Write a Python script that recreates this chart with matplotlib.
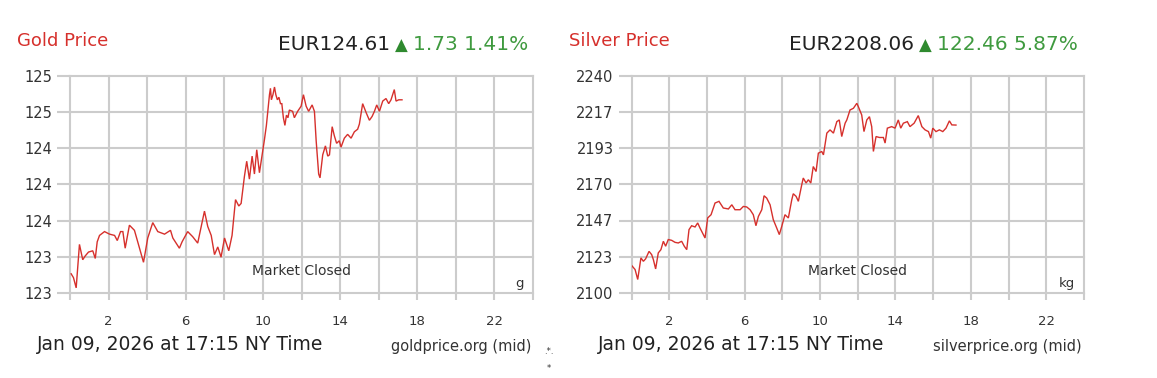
import matplotlib
matplotlib.use("Agg")
import matplotlib.pyplot as plt

# ---------------- data ----------------
gold_hours = [0.06, 0.18, 0.32, 0.49, 0.66, 0.79, 0.96, 1.18, 1.31, 1.41, 1.53, 1.79, 2.05, 2.31, 2.45,
              2.62, 2.74, 2.86, 3.08, 3.34, 3.51, 3.81, 4.03, 4.29, 4.55, 4.90, 5.21, 5.33, 5.67, 5.81,
              6.10, 6.36, 6.62, 6.97, 7.14, 7.32, 7.49, 7.66, 7.83, 8.01, 8.23, 8.40, 8.58, 8.75, 8.87,
              9.04, 9.16, 9.30, 9.44, 9.56, 9.68, 9.82, 10.08, 10.18, 10.26, 10.34, 10.39, 10.44, 10.52,
              10.60, 10.67, 10.75, 10.83, 10.91, 10.98, 11.06, 11.14, 11.22, 11.30, 11.37, 11.54, 11.63,
              11.80, 11.98, 12.10, 12.24, 12.37, 12.55, 12.67, 12.76, 12.89, 12.96, 13.10, 13.24, 13.36,
              13.45, 13.59, 13.70, 13.82, 13.96, 14.05, 14.22, 14.39, 14.57, 14.74, 14.91, 15.00, 15.17,
              15.35, 15.52, 15.66, 15.78, 15.90, 16.04, 16.21, 16.38, 16.52, 16.64, 16.81, 16.90, 17.04,
              17.21]
gold_prices = [123.25, 123.22, 123.14, 123.48, 123.36, 123.39, 123.42, 123.43, 123.37, 123.50, 123.55,
               123.58, 123.56, 123.55, 123.51, 123.58, 123.58, 123.45, 123.63, 123.59, 123.50, 123.34,
               123.53, 123.65, 123.58, 123.56, 123.59, 123.53, 123.45, 123.50, 123.58, 123.54, 123.49,
               123.74, 123.62, 123.55, 123.40, 123.46, 123.38, 123.53, 123.43, 123.55, 123.83, 123.78,
               123.80, 124.01, 124.13, 123.99, 124.17, 124.03, 124.22, 124.04, 124.30, 124.41, 124.53,
               124.65, 124.70, 124.61, 124.65, 124.71, 124.65, 124.61, 124.63, 124.58, 124.58, 124.47,
               124.41, 124.49, 124.47, 124.53, 124.52, 124.47, 124.52, 124.56, 124.65, 124.56, 124.52,
               124.57, 124.52, 124.29, 124.03, 124.00, 124.18, 124.25, 124.17, 124.18, 124.40, 124.33,
               124.27, 124.29, 124.24, 124.31, 124.34, 124.31, 124.36, 124.38, 124.42, 124.58, 124.51,
               124.45, 124.48, 124.52, 124.57, 124.52, 124.60, 124.62, 124.58, 124.61, 124.69, 124.60,
               124.61, 124.61]

silver_hours = [0.01, 0.19, 0.33, 0.50, 0.63, 0.75, 0.93, 1.07, 1.16, 1.28, 1.42, 1.56, 1.69, 1.81, 1.95,
                2.13, 2.31, 2.48, 2.66, 2.80, 2.93, 3.05, 3.19, 3.37, 3.51, 3.63, 3.81, 3.90, 4.04, 4.22,
                4.43, 4.64, 4.87, 5.14, 5.32, 5.49, 5.76, 5.93, 6.11, 6.29, 6.46, 6.60, 6.73, 6.91, 7.03,
                7.17, 7.35, 7.52, 7.70, 7.84, 7.97, 8.14, 8.32, 8.50, 8.58, 8.73, 8.85, 9.03, 9.11, 9.26,
                9.38, 9.51, 9.64, 9.79, 9.91, 10.09, 10.18, 10.36, 10.53, 10.71, 10.89, 11.02, 11.15,
                11.33, 11.42, 11.59, 11.77, 11.95, 12.03, 12.21, 12.33, 12.48, 12.62, 12.74, 12.83, 12.97,
                13.15, 13.36, 13.45, 13.57, 13.80, 13.98, 14.15, 14.28, 14.42, 14.63, 14.77, 14.99, 15.21,
                15.40, 15.57, 15.75, 15.87, 15.98, 16.15, 16.33, 16.51, 16.68, 16.86, 16.99, 17.21]
silver_prices = [2117.7, 2115.1, 2108.7, 2122.6, 2120.4, 2122.0, 2126.8, 2124.7, 2121.5, 2115.5, 2125.8,
                 2127.9, 2133.3, 2130.1, 2134.4, 2133.9, 2132.6, 2132.2, 2133.3, 2130.1, 2127.9, 2140.8,
                 2143.3, 2142.5, 2145.1, 2141.9, 2137.6, 2135.4, 2148.3, 2150.4, 2157.9, 2159.0, 2154.7,
                 2154.1, 2156.8, 2153.6, 2153.6, 2155.7, 2155.4, 2153.6, 2150.4, 2143.3, 2149.3, 2153.6,
                 2162.6, 2161.1, 2156.8, 2147.2, 2141.9, 2137.6, 2142.9, 2150.4, 2148.3, 2160.0, 2163.9,
                 2162.2, 2159.0, 2169.7, 2174.0, 2170.8, 2172.9, 2170.8, 2181.4, 2178.2, 2190.0, 2191.1,
                 2188.9, 2202.9, 2205.0, 2202.9, 2210.3, 2211.4, 2200.7, 2209.3, 2211.4, 2217.8, 2218.9,
                 2222.1, 2220.0, 2214.6, 2203.9, 2211.4, 2213.5, 2207.1, 2191.1, 2200.7, 2200.1, 2200.1,
                 2196.5, 2206.1, 2207.1, 2206.1, 2211.4, 2206.1, 2209.3, 2210.3, 2207.1, 2209.3, 2214.2,
                 2207.1, 2205.0, 2203.9, 2199.7, 2206.1, 2203.9, 2205.0, 2203.9, 2206.1, 2210.8, 2208.2,
                 2208.1]

gold_y_range = (123.1, 124.8)
silver_y_range = (2100.0, 2240.0)
x_ticks = list(range(0, 25, 2))
x_labeled = [2, 6, 10, 14, 18, 22]

gold_title = "Gold Price"
silver_title = "Silver Price"
gold_price_text = "EUR124.61"
gold_change_text = "1.73 1.41%"
silver_price_text = "EUR2208.06"
silver_change_text = "122.46 5.87%"
date_text = "Jan 09, 2026 at 17:15 NY Time"
gold_source = "goldprice.org (mid)"
silver_source = "silverprice.org (mid)"
gold_unit = "g"
silver_unit = "kg"
status_text = "Market Closed"

# ---------------- style ----------------
W, H = 1157, 378
RED = "#d6302c"
GREEN = "#3f9a3f"
DARK = "#333333"
GRID = "#cccccc"

plt.rcParams['font.family'] = ['DejaVu Sans']
fig = plt.figure(figsize=(W / 100, H / 100), dpi=100)
fig.patch.set_facecolor("white")


def px(x, y):
    return x / W, 1 - y / H


def make_panel(left_px, right_px, hours, prices, yr, unit, title, price_txt, change_txt,
               source, title_x, header_right, date_x):
    top_px, bottom_px = 75.5, 293.0
    ax = fig.add_axes([left_px / W, 1 - bottom_px / H, (right_px - left_px) / W,
                       (bottom_px - top_px) / H])
    ax.plot(hours, prices, color=RED, lw=1.0, solid_joinstyle="miter")
    ax.set_xlim(0, 24)
    ax.set_ylim(*yr)
    ax.set_xticks(x_ticks)
    ax.set_xticklabels([str(h) if h in x_labeled else "" for h in x_ticks])
    yt = [yr[0] + (yr[1] - yr[0]) * i / 6 for i in range(7)]
    ax.set_yticks(yt)
    ax.set_yticklabels([f"{v:.0f}" for v in yt])
    for s in ax.spines.values():
        s.set_visible(False)
    ax.grid(True, color=GRID, lw=1.5)
    for gl in ax.get_xgridlines() + ax.get_ygridlines():
        gl.set_clip_on(False)
    ax.set_axisbelow(True)
    ax.tick_params(axis="y", length=9.6, width=1.5, color=GRID, pad=3.4,
                   labelsize=10.5, labelcolor=DARK)
    ax.tick_params(axis="x", length=5.3, width=1.5, color=GRID, pad=10.5,
                   labelsize=9.5, labelcolor=DARK)
    ax.set_facecolor("white")
    # in-plot texts
    cx = (left_px + right_px) / 2
    fig.text(*px(cx, 271), status_text, ha="center", va="center", fontsize=10, color=DARK)
    fig.text(*px(right_px - 9, 284), unit, ha="right", va="center", fontsize=9.5, color=DARK)
    # title
    fig.text(*px(title_x, 41), title, ha="left", va="center", fontsize=13, color=RED)
    # header price
    t_change = fig.text(*px(header_right, 45), change_txt, ha="right", va="center",
                        fontsize=14.5, color=GREEN)
    fig.canvas.draw()
    bb = t_change.get_window_extent()
    tri_right = bb.x0 - 5
    t_tri = fig.text(tri_right / W, 1 - 46 / H, "\u25B2", ha="right", va="center",
                     fontsize=12, color="#2f8a2f")
    fig.canvas.draw()
    bb2 = t_tri.get_window_extent()
    fig.text((bb2.x0 - 5) / W, 1 - 45 / H, price_txt, ha="right", va="center",
             fontsize=14.5, color="#222222")
    # footer
    fig.text(*px(date_x, 345), date_text, ha="left", va="center", fontsize=13.5, color="#222222")
    fig.text(*px(right_px - 2, 346), source, ha="right", va="center", fontsize=10.5,
             color=DARK)
    return ax


make_panel(70, 533, gold_hours, gold_prices, gold_y_range, gold_unit, gold_title,
           gold_price_text, gold_change_text, gold_source, 17, 528, 37)
make_panel(631.5, 1084, silver_hours, silver_prices, silver_y_range, silver_unit, silver_title,
           silver_price_text, silver_change_text, silver_source, 569, 1078, 598)

# small stray marks
fig.text(*px(549, 351), ".*.", ha="center", va="center", fontsize=6, color="#333333")
fig.text(*px(549, 368), "*", ha="center", va="center", fontsize=6, color="#333333")

fig.savefig("out.png", dpi=100, facecolor="white")
